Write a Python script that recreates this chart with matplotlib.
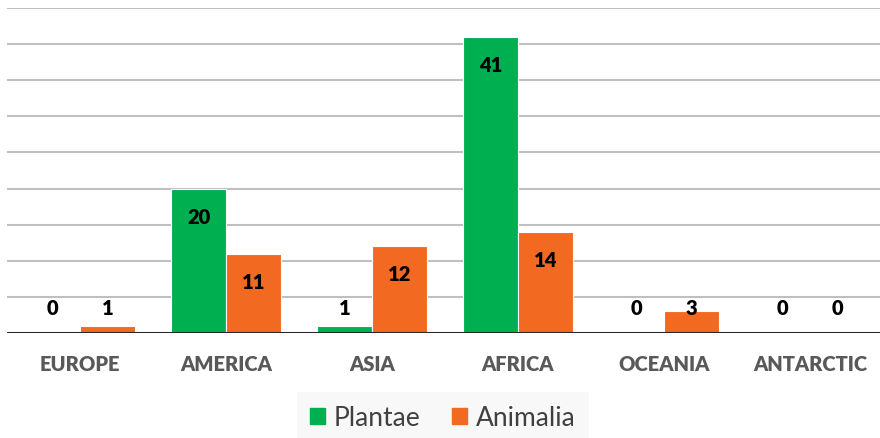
import numpy as np
import matplotlib
matplotlib.use("Agg")
import matplotlib.pyplot as plt
from matplotlib.patches import Patch

continents = ["EUROPE", "AMERICA", "ASIA", "AFRICA", "OCEANIA", "ANTARCTIC"]
plantae = [0, 20, 1, 41, 0, 0]
animalia = [1, 11, 12, 14, 3, 0]

GREEN = "#00B050"
ORANGE = "#F26A21"

plt.rcParams["font.family"] = ["Lato", "DejaVu Sans"]

fig = plt.figure(figsize=(8.8, 4.38), dpi=100)
ax = fig.add_axes([7 / 880, 105 / 438, 876 / 880, 325 / 438])

x = np.arange(len(continents))
w = 0.375
bars_p = ax.bar(x - w / 2, plantae, w, color=GREEN, edgecolor="white", linewidth=0.8, zorder=3)
bars_a = ax.bar(x + w / 2, animalia, w, color=ORANGE, edgecolor="white", linewidth=0.8, zorder=3)

# value labels: inside the top of tall bars, at a fixed height above the axis for short ones
for bars, vals in ((bars_p, plantae), (bars_a, animalia)):
    for b, v in zip(bars, vals):
        cx = b.get_x() + b.get_width() / 2
        if v > 5:
            ax.annotate(str(v), (cx, v), xytext=(0, -20.5), textcoords="offset points",
                        ha="center", va="center", fontsize=14.5, fontweight="heavy",
                        color="black", zorder=4)
        else:
            ax.annotate(str(v), (cx, 0), xytext=(0, 17.5), textcoords="offset points",
                        ha="center", va="center", fontsize=14.5, fontweight="heavy",
                        color="black", zorder=4)

ax.set_xlim(-0.5, len(continents) - 0.5)
ax.set_ylim(0, 45)
ax.set_yticks(np.arange(5, 46, 5))
ax.yaxis.grid(True, color="#BFBFBF", linewidth=1.5, zorder=0)
ax.set_yticklabels([])
ax.tick_params(axis="y", length=0)
ax.axhline(0, color="#262626", linewidth=2.2, zorder=5)

ax.set_xticks(x)
ax.set_xticklabels(continents, fontsize=14.5, fontweight="heavy", color="#595959")
ax.tick_params(axis="x", length=0, pad=15.5)

for s in ax.spines.values():
    s.set_visible(False)

handles = [Patch(color=GREEN, label="Plantae"), Patch(color=ORANGE, label="Animalia")]
leg = fig.legend(handles=handles, loc="center", bbox_to_anchor=(443 / 880, 20 / 438),
                 ncol=2, frameon=True, fontsize=19, handlelength=0.55, handleheight=0.55,
                 handletextpad=0.35, columnspacing=1.2, borderpad=0.5,
                 labelcolor="#404040")
leg.get_frame().set_facecolor("#F7F7F7")
leg.get_frame().set_edgecolor("none")
leg.get_frame().set_boxstyle("square", pad=0)

fig.savefig("out.png", dpi=100)
